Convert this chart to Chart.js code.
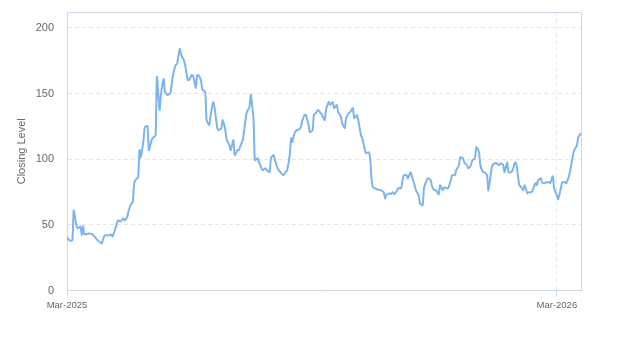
<!DOCTYPE html>
<html>
<head>
<meta charset="utf-8">
<script src="https://cdn.jsdelivr.net/npm/chart.js@4/dist/chart.umd.min.js"></script>
<style>
html,body{margin:0;padding:0;background:#fff;}
#wrap{width:623px;height:350px;position:relative;}
</style>
</head>
<body>
<div id="wrap"><canvas id="c" width="623" height="350"></canvas></div>
<script>
// Day offsets from 1 Mar 2025
const dayOffsets = [0,2,4,5,7,8,10,11,12,13,16,19,21,23,25,26,28,31,33,34,37,38,40,42,43,45,46,48,49,50,51,53,54,55,57,58,60,61,63,64,66,67,69,70,72,73,75,77,79,81,82,84,85,87,88,90,91,93,94,96,97,99,100,101,103,104,106,107,109,110,112,113,115,116,118,119,121,122,124,125,127,128,130,131,133,134,136,137,139,140,142,143,145,146,148,149,151,152,154,155,157,159,161,163,164,166,167,168,169,171,172,174,175,177,178,180,181,183,184,186,187,189,190,192,193,195,196,198,199,201,202,204,205,207,208,210,211,213,214,216,217,219,220,222,223,225,226,227,228,231,234,236,237,238,240,241,243,244,246,247,249,250,251,253,254,256,257,259,260,262,263,265,266,268,269,271,272,274,275,277,278,280,281,283,284,286,287,289,290,292,293,295,296,298,299,301,302,304,305,307,308,310,311,313,314,316,317,319,320,322,323,325,326,328,329,331,332,334,335,337,338,340,341,343,344,346,347,349,350,351,353,354,356,357,359,360,362,363,365,366,368,369,371,372,374,375,377,378,380,381,383];
const closingLevel = [40.5,38.2,38.2,61.1,49.6,47.3,48.9,42.0,48.9,42.7,43.5,42.7,40.5,38.2,36.6,35.9,42.0,42.0,42.7,41.2,50.4,53.4,52.7,55.0,53.4,56.5,61.1,66.4,67.2,80.9,84.0,86.3,107,101.5,114.5,124.4,125.2,106.9,114.5,116.0,118.3,162.6,137.4,148.9,161.1,151.1,148.9,150.4,164.1,171.8,172.5,184.0,179.4,175.6,171.8,160.3,160.3,164.1,163.4,154.2,164.1,162.6,158.8,152.7,151.1,129.8,126.0,133.6,143.5,138.9,123.7,122.1,123.7,129.8,122.1,114.5,110.7,106.9,114.5,103.1,106.9,106.9,112.2,114.5,129.8,135.9,139.7,148.9,129.8,99.2,100.8,97.7,93.1,91.6,93.1,91.6,90.1,100.8,103.1,99.2,93.1,90.1,87.8,90.1,91.6,103.1,116.0,113.0,118.3,122.1,122.1,123.7,128.2,133.6,133.6,126.0,120.6,122.1,133.6,135.9,137.4,135.1,133.6,129.8,137.4,143.5,141.2,143.5,138.9,141.2,135.9,132.8,127.5,123.7,131.3,135.1,135.9,138.9,131.3,133.6,129.8,118.3,116.0,106.9,104.6,105.3,99.2,84.0,78.6,77.1,76.3,74.8,70.2,72.5,74.0,73.3,74.8,73.3,76.3,77.9,77.9,84.0,87.8,87.8,85.5,90.1,87.0,80.2,76.3,72.5,66.4,64.9,77.9,84.0,85.5,84.0,79.4,76.3,76.3,73.3,80.2,76.3,78.6,77.9,77.9,84.0,87.8,87.8,91.6,95.4,101.5,100.8,97.7,95.4,93.1,95.4,99.2,100.8,109.2,105.3,95.4,90.1,90.1,87.8,76.3,90.1,95.4,96.9,96.9,95.4,96.9,95.4,90.1,97.7,90.1,90.1,91.6,97.7,95.4,80.2,79.4,76.3,80.2,74.0,74.8,74.8,76.3,81.7,80.2,84.0,85.5,82.4,81.7,82.4,82.4,81.7,87.0,77.9,72.5,69.5,77.9,82.4,82.4,81.7,87.0,91.6,103.1,106.9,110.7,116.8,119.8];
const xTickDays = [0, 365];
const xTickLabels = ['Mar-2025', 'Mar-2026'];
const yTicks = [0, 50, 100, 150, 200];
const yAxisTitle = 'Closing Level';

const points = dayOffsets.map((d, i) => ({x: d, y: closingLevel[i]}));

const frame = {
  id: 'frame',
  afterDatasetsDraw(chart) {
    const a = chart.chartArea, ctx = chart.ctx;
    ctx.save();
    ctx.strokeStyle = '#ccd6eb';
    ctx.lineWidth = 1;
    ctx.beginPath();
    ctx.moveTo(a.left, a.top + 0.5);
    ctx.lineTo(a.right + 0.5, a.top + 0.5);
    ctx.lineTo(a.right + 0.5, a.bottom);
    ctx.stroke();
    ctx.restore();
  }
};

new Chart(document.getElementById('c'), {
  type: 'line',
  data: {
    datasets: [{
      data: points,
      borderColor: '#7cb5ec',
      borderWidth: 2,
      pointRadius: 0,
      tension: 0.2,
      fill: false
    }]
  },
  options: {
    responsive: false,
    animation: false,
    events: [],
    layout: {padding: {left: 11, right: 42, top: 12, bottom: 36}},
    plugins: {legend: {display: false}, tooltip: {enabled: false}},
    scales: {
      x: {
        type: 'linear',
        min: 0,
        max: dayOffsets[dayOffsets.length - 1],
        afterBuildTicks: (s) => { s.ticks = xTickDays.map(v => ({value: v})); },
        ticks: {
          autoSkip: false,
          maxRotation: 0,
          padding: 3,
          color: '#666666',
          font: {family: 'Liberation Sans, Arial, sans-serif', size: 9.5},
          callback: (v) => { const i = xTickDays.indexOf(v); return i >= 0 ? xTickLabels[i] : ''; }
        },
        grid: {color: '#e6e6e6', tickLength: 6, tickColor: '#ccd6eb'},
        border: {color: '#ccd6eb', dash: [4, 3]}
      },
      y: {
        min: 0,
        max: 212,
        afterBuildTicks: (s) => { s.ticks = yTicks.map(v => ({value: v})); },
        afterFit: (s) => { s.width = 56; s.paddingTop = 0; s.paddingBottom = 0; },
        ticks: {
          padding: 13,
          color: '#666666',
          font: {family: 'Liberation Sans, Arial, sans-serif', size: 11}
        },
        grid: {color: '#e6e6e6', drawTicks: false},
        border: {color: '#ccd6eb', dash: [4, 3]},
        title: {
          display: true,
          text: yAxisTitle,
          color: '#666666',
          padding: {top: 4, bottom: 4},
          font: {family: 'Liberation Sans, Arial, sans-serif', size: 11}
        }
      }
    }
  },
  plugins: [frame]
});
</script>
</body>
</html>
